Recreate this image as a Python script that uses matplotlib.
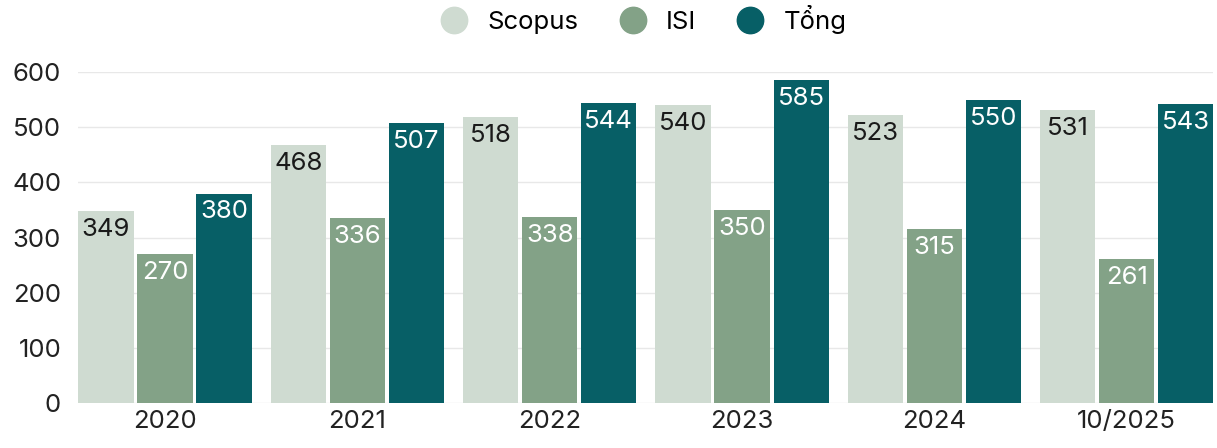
import numpy as np
import matplotlib.pyplot as plt

plt.rcParams['font.family'] = ['Inter', 'DejaVu Sans']

# Data
years = ["2020", "2021", "2022", "2023", "2024", "10/2025"]
scopus = [349, 468, 518, 540, 523, 531]
isi = [270, 336, 338, 350, 315, 261]
tong = [380, 507, 544, 585, 550, 543]
series_names = ["Scopus", "ISI", "Tổng"]

colors = ["#cfdbd1", "#83a287", "#075f66"]
label_colors = ["#1a1a1a", "white", "white"]

fig = plt.figure(figsize=(12.17, 4.48), dpi=100)
ax = fig.add_axes([0.064, 0.1, 0.933, 0.739])

x = np.arange(len(years))
width = 0.287
step = 0.307

for i, (vals, name) in enumerate(zip([scopus, isi, tong], series_names)):
    bars = ax.bar(x + (i - 1) * step, vals, width, color=colors[i], label=name, zorder=2)
    for b, v in zip(bars, vals):
        ax.annotate(str(v), (b.get_x() + b.get_width() / 2, v), xytext=(0, -5),
                    textcoords="offset points", ha="center", va="top",
                    fontsize=18.5, color=label_colors[i], zorder=3)

ax.set_xlim(-0.453, 5.45)
ax.set_ylim(0, 600)
ax.set_yticks(range(0, 601, 100))
ax.set_xticks(x)
ax.set_xticklabels(years)
ax.tick_params(axis="both", length=0, labelsize=18.5, colors="#222222")
ax.tick_params(axis="y", pad=12)
ax.tick_params(axis="x", pad=5)
ax.grid(axis="y", color="#e8e8e8", linewidth=1, zorder=0)
for s in ax.spines.values():
    s.set_visible(False)

handles = [plt.Line2D([], [], marker="o", linestyle="", markersize=19, color=c) for c in colors]
fig.legend(handles, series_names, loc="upper center", bbox_to_anchor=(0.524, 1.04), ncol=3,
           frameon=False, fontsize=18.5, handletextpad=0.3, columnspacing=1.1)

fig.savefig("out.png", dpi=100)
